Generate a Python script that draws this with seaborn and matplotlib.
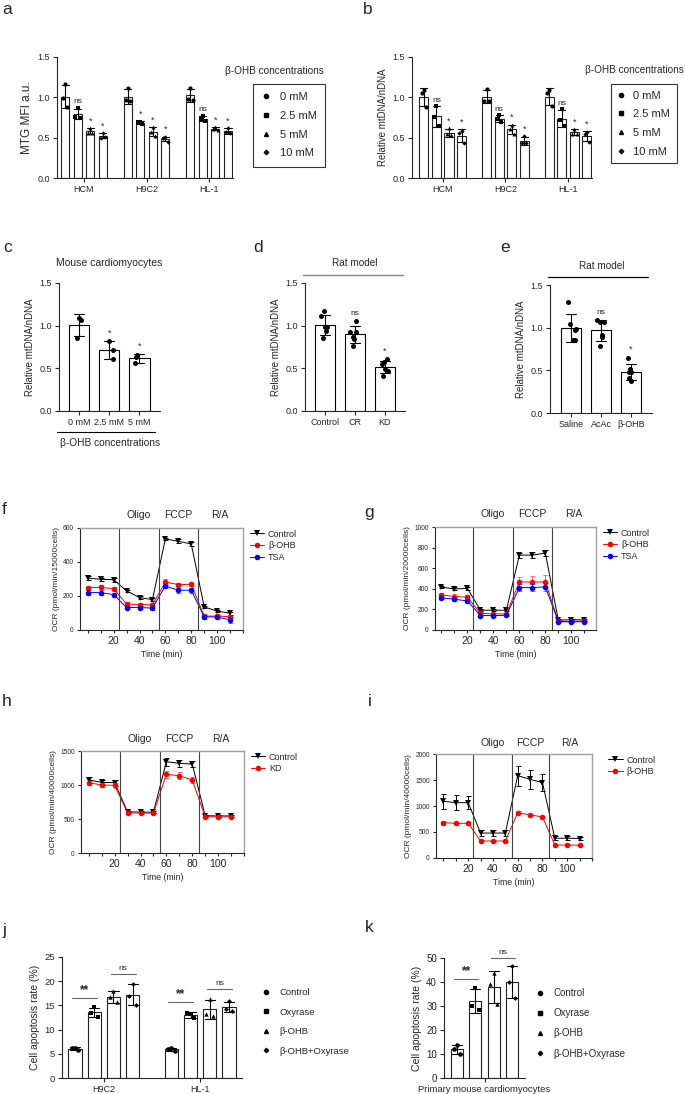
import numpy as np
import pandas as pd
import matplotlib
matplotlib.use("Agg")
import matplotlib.pyplot as plt
import seaborn as sns
from matplotlib.lines import Line2D

sns.set_style("ticks")
plt.rcParams['font.family'] = ['Liberation Sans', 'DejaVu Sans']
plt.rcParams.update({'axes.linewidth': 0.8, 'xtick.major.width': 0.8, 'ytick.major.width': 0.8,
                     'xtick.major.size': 3, 'ytick.major.size': 3,
                     'xtick.major.pad': 2, 'ytick.major.pad': 2})
np.random.seed(3)  # jitter only

# ---------------- data ----------------
cells = ['HCM', 'H9C2', 'HL-1']
concs = ['0 mM', '2.5 mM', '5 mM', '10 mM']
conc_markers = ['o', 's', '^', 'D']

# a: MTG MFI (3 replicates per concentration)
mtg_hcm = [[1.16, 0.99, 0.88], [0.87, 0.76, 0.75], [0.62, 0.56, 0.56], [0.56, 0.50, 0.51]]
mtg_h9c2 = [[1.11, 0.97, 0.95], [0.70, 0.69, 0.67], [0.63, 0.57, 0.52], [0.51, 0.49, 0.45]]
mtg_hl1 = [[1.12, 0.98, 0.97], [0.77, 0.73, 0.71], [0.63, 0.61, 0.60], [0.62, 0.57, 0.56]]
a_sig = [['', 'ns', '*', '*'], ['', '*', '*', '*'], ['', 'ns', '*', '*']]

# b: relative mtDNA/nDNA
mt_hcm = [[1.09, 1.05, 0.88], [0.89, 0.76, 0.64], [0.62, 0.54, 0.53], [0.58, 0.56, 0.43]]
mt_h9c2 = [[1.10, 0.96, 0.96], [0.78, 0.73, 0.70], [0.66, 0.61, 0.55], [0.52, 0.44, 0.43]]
mt_hl1 = [[1.09, 1.05, 0.89], [0.85, 0.72, 0.64], [0.61, 0.55, 0.54], [0.57, 0.54, 0.45]]
b_sig = [['', 'ns', '*', '*'], ['', 'ns', '*', '*'], ['', 'ns', '*', '*']]

# c: mouse cardiomyocytes
mouse_doses = ['0 mM', '2.5 mM', '5 mM']
mouse_vals = [[1.09, 1.07, 0.86], [0.82, 0.71, 0.61], [0.63, 0.66, 0.56]]
c_sig = ['', '*', '*']

# d, e: rat model
rat_diet = ['Control', 'CR', 'KD']
diet_vals = [[1.17, 1.11, 0.98, 0.94, 0.86, 0.99], [1.06, 0.92, 0.93, 0.87, 0.84, 0.76],
             [0.61, 0.57, 0.55, 0.49, 0.47, 0.41]]
d_sig = ['', 'ns', '*']
rat_ketone = ['Saline', 'AcAc', 'β-OHB']
ketone_vals = [[1.30, 1.04, 0.97, 0.98, 0.85, 0.85], [1.07, 1.07, 1.09, 0.91, 0.89, 0.78],
               [0.65, 0.51, 0.48, 0.48, 0.41, 0.38]]
e_sig = ['', 'ns', '*']

# f-i: Seahorse OCR
ocr_time = [0, 10, 20, 30, 40, 50, 60, 70, 80, 90, 100, 110]
injections = [24, 55, 85]
injection_names = ['Oligo', 'FCCP', 'R/A']
injection_mid = [39.5, 70, 102]

f_ctrl = [306, 298, 296, 230, 191, 179, 536, 522, 506, 136, 111, 99]
f_ctrl_err = [12, 10, 12, 8, 8, 8, 8, 12, 12, 6, 6, 8]
f_ohb = [249, 251, 243, 152, 150, 148, 282, 267, 269, 82, 82, 78]
f_ohb_err = [12, 12, 12, 10, 10, 10, 16, 10, 10, 10, 10, 12]
f_tsa = [220, 220, 208, 132, 132, 129, 259, 234, 234, 78, 76, 60]
f_tsa_err = [14, 14, 12, 10, 10, 12, 14, 16, 14, 12, 12, 18]

g_ctrl = [416, 399, 403, 192, 192, 192, 727, 727, 747, 94, 101, 97]
g_ctrl_err = [12, 15, 12, 10, 10, 10, 25, 30, 25, 8, 8, 8]
g_ohb = [341, 325, 318, 162, 156, 156, 468, 464, 468, 84, 84, 88]
g_ohb_err = [20, 22, 20, 10, 10, 10, 50, 65, 65, 8, 8, 8]
g_tsa = [312, 299, 282, 140, 140, 143, 412, 412, 419, 81, 78, 81]
g_tsa_err = [15, 15, 15, 10, 10, 10, 35, 35, 40, 8, 8, 8]

h_ctrl = [1073, 1039, 1034, 605, 600, 600, 1342, 1318, 1308, 548, 545, 545]
h_ctrl_err = [40, 40, 45, 15, 15, 15, 60, 50, 50, 15, 15, 15]
h_kd = [1034, 1000, 995, 590, 590, 585, 1157, 1137, 1073, 535, 530, 530]
h_kd_err = [30, 30, 35, 15, 15, 15, 50, 50, 50, 15, 15, 15]

i_ctrl = [1090, 1064, 1064, 480, 480, 480, 1583, 1513, 1449, 380, 380, 375]
i_ctrl_err = [150, 140, 130, 60, 60, 60, 190, 180, 170, 40, 40, 35]
i_ohb = [679, 667, 667, 327, 327, 327, 870, 830, 790, 250, 250, 245]
i_ohb_err = [40, 30, 30, 15, 15, 15, 25, 20, 20, 15, 15, 15]

# j, k: apoptosis
treatments = ['Control', 'Oxyrase', 'β-OHB', 'β-OHB+Oxyrase']
treat_markers = ['o', 's', '^', 'D']
apo_cells = ['H9C2', 'HL-1']
apo_h9c2 = [[6.3, 6.1, 5.8], [14.6, 13.4, 12.7], [18.0, 16.7, 15.6], [19.4, 17.0, 15.1]]
apo_hl1 = [[6.2, 6.0, 5.6], [13.2, 13.5, 12.3], [16.4, 13.3, 12.9], [15.9, 14.2, 13.9]]
apo_primary = [[13.6, 12.2, 10.1], [37.6, 29.9, 28.5], [43.9, 39.0, 31.0], [46.5, 40.1, 33.5]]

# ---------------- layout helpers ----------------
W, H = 685, 1094
fig = plt.figure(figsize=(W / 100, H / 100), dpi=100)
offsets = [-0.3, -0.1, 0.1, 0.3]      # dodge positions of 4 hue bars (width 0.8)
rep_spread = [0.0, -0.035, 0.035]     # horizontal spread of replicate dots
marker_scale = {'o': 1.0, 's': 0.9, '^': 0.9, 'D': 0.55}


def box(l, t, r, b):
    return [l / W, 1 - b / H, (r - l) / W, (b - t) / H]


def panel_label(x, y, s):
    fig.text(x / W, 1 - y / H, s, fontsize=12.5, ha='left', va='center')


def long_df(groups, levels, lists):
    rows = [(gi, g, li, lv, ri, v)
            for gi, (g, grp) in enumerate(zip(groups, lists))
            for li, (lv, vals) in enumerate(zip(levels, grp))
            for ri, v in enumerate(vals)]
    return pd.DataFrame(rows, columns=['gi', 'group', 'li', 'level', 'rep', 'value'])


def grouped_bars(ax, groups, levels, lists, markers, gap, capsize, ms=9):
    df = long_df(groups, levels, lists)
    sns.barplot(df, x='group', y='value', hue='level', order=groups, hue_order=levels,
                palette=['white'] * len(levels), edgecolor='#222222', linewidth=0.8,
                errorbar='sd', capsize=capsize, gap=gap,
                err_kws={'color': 'black', 'linewidth': 0.8}, legend=False, ax=ax)
    df['xpos'] = df['gi'] + df['li'].map(lambda i: offsets[i]) + df['rep'].map(lambda r: rep_spread[r])
    for li, m in enumerate(markers):
        sub = df[df.li == li]
        sns.scatterplot(x=sub['xpos'].values, y=sub['value'].values, marker=m, color='black',
                        s=ms * marker_scale[m], linewidth=0, ax=ax, zorder=5)
    return df


def simple_bars(ax, groups, lists, width, capsize):
    df = long_df(groups, [''], [[v] for v in lists])
    sns.barplot(df, x='group', y='value', order=groups, color='white', edgecolor='black',
                linewidth=0.8, width=width, errorbar='sd', capsize=capsize,
                err_kws={'color': 'black', 'linewidth': 0.8}, ax=ax)
    sns.stripplot(df, x='group', y='value', order=groups, color='black', size=3.6,
                  jitter=0.16, linewidth=0, ax=ax)
    return df


def style_bar_axes(ax, xlim, ylim, yticks, ylabel, fmt='{x:.1f}', ysize=6.5, xsize=6.5, labsize=7):
    sns.despine(ax=ax)
    ax.set_xlim(*xlim)
    ax.set_ylim(*ylim)
    ax.set_yticks(yticks)
    ax.yaxis.set_major_formatter(fmt)
    ax.set_xlabel('')
    ax.set_ylabel(ylabel, fontsize=labsize, labelpad=3)
    ax.tick_params(axis='y', labelsize=ysize)
    ax.tick_params(axis='x', labelsize=xsize)


def stat_top(vals):
    v = np.array(vals)
    return max(v.mean() + v.std(ddof=1), v.max())


def ocr_panel(ax, series, ymax, ystep, ylabel, label_y, legend_x):
    for name, vals, errs, col, mk in series:
        ax.errorbar(ocr_time, vals, yerr=errs, fmt='none', ecolor=col, elinewidth=0.7,
                    capsize=1.8, capthick=0.7, alpha=1 if col == 'black' else 0.55)
        sns.lineplot(x=ocr_time, y=vals, color=col, marker=mk, markersize=4,
                     markeredgecolor=col, markeredgewidth=0, linewidth=0.7, label=name, ax=ax)
    for t in injections:
        ax.axvline(t, color='#444444', lw=0.8)
    for t, s in zip(injection_mid, injection_names):
        ax.text(t, label_y, s, transform=ax.get_xaxis_transform(), ha='center', va='center',
                fontsize=7.5)
    ax.set_xlim(-6, 120)
    ax.set_ylim(0, ymax)
    ax.set_yticks(np.arange(0, ymax + 1, ystep))
    ax.set_xticks(range(0, 121, 10))
    ax.set_xticklabels([str(t) if t in (20, 40, 60, 80, 100) else '' for t in range(0, 121, 10)])
    ax.tick_params(axis='x', labelsize=7.5, length=2.5)
    ax.tick_params(axis='y', labelsize=4.8, length=2.5)
    ax.set_xlabel('Time (min)', fontsize=6.3, labelpad=3)
    ax.set_ylabel(ylabel, fontsize=6, labelpad=2)
    for s in ['top', 'right']:
        ax.spines[s].set_color('#a0a0a0')
        ax.spines[s].set_linewidth(1.0)
    ax.legend(loc='upper left', bbox_to_anchor=(legend_x, 1.02), frameon=False, fontsize=6.5,
              handlelength=1.6, handletextpad=0.4, labelspacing=0.3, borderaxespad=0)


def marker_handles(markers, ms):
    return [Line2D([], [], marker=m, color='black', linestyle='none',
                   markersize=ms * np.sqrt(marker_scale[m])) for m in markers]


# ---------------- panel a ----------------
ax_a = fig.add_axes(box(57, 57, 233, 178))
grouped_bars(ax_a, cells, concs, [mtg_hcm, mtg_h9c2, mtg_hl1], conc_markers, gap=0.36, capsize=0.45)
style_bar_axes(ax_a, (-0.43, 2.38), (0, 1.5), [0, 0.5, 1.0, 1.5], 'MTG MFI a.u.', labsize=8.5)
for gi, (grp, sig) in enumerate(zip([mtg_hcm, mtg_h9c2, mtg_hl1], a_sig)):
    for li, s in enumerate(sig):
        if s:
            ax_a.text(gi + offsets[li], stat_top(grp[li]) + 0.03, s, ha='center', va='bottom',
                      fontsize=6 if s == 'ns' else 6.5)
fig.text(225 / W, 1 - 71 / H, 'β-OHB concentrations', fontsize=7.2, va='center')
fig.legend(marker_handles(conc_markers, 3), concs, loc='upper left',
           bbox_to_anchor=(253 / W, 1 - 84 / H), borderaxespad=0, fontsize=8, frameon=True,
           fancybox=False, edgecolor='black', handlelength=0.8, handletextpad=0.9,
           labelspacing=0.78, borderpad=0.75).get_frame().set_linewidth(0.8)
panel_label(2, 10, 'a')

# ---------------- panel b ----------------
ax_b = fig.add_axes(box(412, 57, 592, 178))
grouped_bars(ax_b, cells, concs, [mt_hcm, mt_h9c2, mt_hl1], conc_markers, gap=0.28, capsize=0.45)
style_bar_axes(ax_b, (-0.49, 2.38), (0, 1.5), [0, 0.5, 1.0, 1.5], 'Relative mtDNA/nDNA')
for gi, (grp, sig) in enumerate(zip([mt_hcm, mt_h9c2, mt_hl1], b_sig)):
    for li, s in enumerate(sig):
        if s:
            ax_b.text(gi + offsets[li], stat_top(grp[li]) + 0.03, s, ha='center', va='bottom',
                      fontsize=6 if s == 'ns' else 6.5)
fig.text(585 / W, 1 - 70 / H, 'β-OHB concentrations', fontsize=7.2, va='center')
fig.legend(marker_handles(conc_markers, 3), concs, loc='upper left',
           bbox_to_anchor=(611 / W, 1 - 84 / H), borderaxespad=0, fontsize=8, frameon=True,
           fancybox=False, edgecolor='black', handlelength=0.6, handletextpad=0.8,
           labelspacing=0.78, borderpad=0.6).get_frame().set_linewidth(0.8)
panel_label(363, 9, 'b')

# ---------------- panel c ----------------
ax_c = fig.add_axes(box(59, 283, 160, 411))
simple_bars(ax_c, mouse_doses, mouse_vals, width=0.67, capsize=0.33)
style_bar_axes(ax_c, (-0.66, 2.68), (0, 1.5), [0, 0.5, 1.0, 1.5], 'Relative mtDNA/nDNA')
for i, s in enumerate(c_sig):
    if s:
        ax_c.text(i, stat_top(mouse_vals[i]) + 0.04, s, ha='center', va='bottom', fontsize=6.5)
ax_c.set_title('Mouse cardiomyocytes', fontsize=7.5, pad=12)
ax_c.plot([-0.02, 0.95], [-0.164, -0.164], color='black', lw=0.8, transform=ax_c.transAxes,
          clip_on=False)
ax_c.text(0.505, -0.25, 'β-OHB concentrations', transform=ax_c.transAxes, ha='center',
          va='center', fontsize=7.3)
panel_label(3, 248, 'c')

# ---------------- panel d ----------------
ax_d = fig.add_axes(box(305, 283, 405, 411))
simple_bars(ax_d, rat_diet, diet_vals, width=0.65, capsize=0.35)
style_bar_axes(ax_d, (-0.67, 2.67), (0, 1.5), [0, 0.5, 1.0, 1.5], 'Relative mtDNA/nDNA')
for i, s in enumerate(d_sig):
    if s:
        ax_d.text(i, stat_top(diet_vals[i]) + 0.04, s, ha='center', va='bottom',
                  fontsize=6 if s == 'ns' else 6.5)
ax_d.plot([-0.02, 0.98], [1.0625, 1.0625], color='#888888', lw=1.0, transform=ax_d.transAxes,
          clip_on=False)
ax_d.text(0.5, 1.156, 'Rat model', transform=ax_d.transAxes, ha='center', va='center', fontsize=7.2)
panel_label(253, 247, 'd')

# ---------------- panel e ----------------
ax_e = fig.add_axes(box(550, 285, 652, 413))
simple_bars(ax_e, rat_ketone, ketone_vals, width=0.66, capsize=0.35)
style_bar_axes(ax_e, (-0.7, 2.7), (0, 1.5), [0, 0.5, 1.0, 1.5], 'Relative mtDNA/nDNA')
for i, s in enumerate(e_sig):
    if s:
        ax_e.text(i, stat_top(ketone_vals[i]) + 0.04, s, ha='center', va='bottom',
                  fontsize=6 if s == 'ns' else 6.5)
ax_e.plot([-0.02, 0.96], [1.0625, 1.0625], color='black', lw=0.9, transform=ax_e.transAxes,
          clip_on=False)
ax_e.text(0.51, 1.148, 'Rat model', transform=ax_e.transAxes, ha='center', va='center', fontsize=7.2)
panel_label(500, 247, 'e')

# ---------------- panels f-i ----------------
ax_f = fig.add_axes(box(80, 528, 243, 630))
ocr_panel(ax_f, [('Control', f_ctrl, f_ctrl_err, 'black', 'v'),
                 ('β-OHB', f_ohb, f_ohb_err, 'red', 'o'),
                 ('TSA', f_tsa, f_tsa_err, 'blue', 'o')],
          600, 200, 'OCR (pmol/min/15000cells)', 1.127, 1.02)
panel_label(2, 510, 'f')

ax_g = fig.add_axes(box(435, 527, 596, 630))
ocr_panel(ax_g, [('Control', g_ctrl, g_ctrl_err, 'black', 'v'),
                 ('β-OHB', g_ohb, g_ohb_err, 'red', 'o'),
                 ('TSA', g_tsa, g_tsa_err, 'blue', 'o')],
          1000, 200, 'OCR (pmol/min/20000cells)', 1.127, 1.02)
ax_g.set_xlim(-5, 119)
panel_label(364, 513, 'g')

ax_h = fig.add_axes(box(81, 751, 244, 853))
ocr_panel(ax_h, [('Control', h_ctrl, h_ctrl_err, 'black', 'v'),
                 ('KD', h_kd, h_kd_err, 'red', 'o')],
          1500, 500, 'OCR (pmol/min/40000cells)', 1.118, 1.02)
panel_label(2, 702, 'h')

ax_i = fig.add_axes(box(436, 754, 592, 858))
ocr_panel(ax_i, [('Control', i_ctrl, i_ctrl_err, 'black', 'v'),
                 ('β-OHB', i_ohb, i_ohb_err, 'red', 'o')],
          2000, 500, 'OCR (pmol/min/40000cells)', 1.106, 1.08)
panel_label(368, 702, 'i')

# ---------------- panel j ----------------
ax_j = fig.add_axes(box(62, 957, 242, 1078))
grouped_bars(ax_j, apo_cells, treatments, [apo_h9c2, apo_hl1], treat_markers, gap=0.32,
             capsize=0.43, ms=11)
style_bar_axes(ax_j, (-0.435, 1.435), (0, 25), [0, 5, 10, 15, 20, 25], 'Cell apoptosis rate (%)',
               fmt='{x:.0f}', ysize=6.8, xsize=6.5, labsize=7.5)
for gi, grp in enumerate([apo_h9c2, apo_hl1]):
    for (l1, l2, s) in [(0, 1, '**'), (2, 3, 'ns')]:
        y = max(stat_top(grp[l1]), stat_top(grp[l2])) + 2.0
        ax_j.plot([gi + offsets[l1] - 0.03, gi + offsets[l2] + 0.03], [y, y], color='#666666', lw=0.8)
        ax_j.text(gi + (offsets[l1] + offsets[l2]) / 2, y + 0.4, s, ha='center', va='bottom',
                  fontsize=8.5 if s == '**' else 6, fontweight='bold' if s == '**' else 'normal')
fig.legend(marker_handles(treat_markers, 3), treatments, loc='upper left',
           bbox_to_anchor=(262 / W, 1 - 988 / H), borderaxespad=0, frameon=False, fontsize=6.8,
           handlelength=0.8, handletextpad=1.0, labelspacing=1.12, borderpad=0)
panel_label(2, 930, 'j')

# ---------------- panel k ----------------
ax_k = fig.add_axes(box(444, 958, 525, 1078))
grouped_bars(ax_k, ['Primary mouse cardiomyocytes'], treatments, [apo_primary], treat_markers,
             gap=0.35, capsize=0.45, ms=11)
style_bar_axes(ax_k, (-0.44, 0.44), (0, 50), [0, 10, 20, 30, 40, 50], 'Cell apoptosis rate (%)',
               fmt='{x:.0f}', ysize=7, xsize=6.8, labsize=7.5)
grp = apo_primary
for (l1, l2, s) in [(0, 1, '**'), (2, 3, 'ns')]:
    y = max(stat_top(grp[l1]), stat_top(grp[l2])) + 3.5
    ax_k.plot([offsets[l1] - 0.03, offsets[l2] + 0.03], [y, y], color='#666666', lw=0.8, clip_on=False)
    ax_k.text((offsets[l1] + offsets[l2]) / 2, y + 0.8, s, ha='center', va='bottom',
              fontsize=8.5 if s == '**' else 6, fontweight='bold' if s == '**' else 'normal')
fig.legend(marker_handles(treat_markers, 3), treatments, loc='upper left',
           bbox_to_anchor=(536 / W, 1 - 988 / H), borderaxespad=0, frameon=False, fontsize=7,
           handlelength=0.8, handletextpad=1.0, labelspacing=1.05, borderpad=0)
panel_label(365, 928, 'k')

fig.savefig('out.png', dpi=100)
